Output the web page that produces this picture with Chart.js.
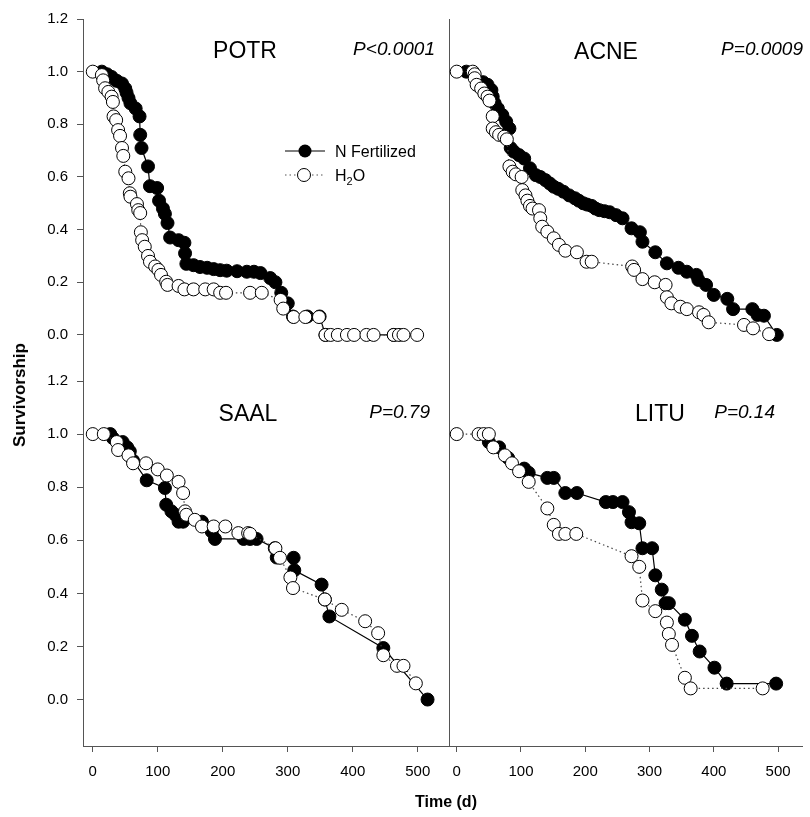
<!DOCTYPE html>
<html>
<head>
<meta charset="utf-8">
<script src="https://cdn.jsdelivr.net/npm/chart.js@4.4.0/dist/chart.umd.min.js"></script>
<style>
body { margin: 0; background: #fff; }
#wrap { position: relative; width: 810px; height: 817px; overflow: hidden; }
#wrap canvas { position: absolute; left: 0; top: 0; }
.axt { position: absolute; font: bold 16px "Liberation Sans", Arial, sans-serif; color: #000; white-space: nowrap; }
#ylab { left: 20px; top: 395px; font-size: 17px; transform: translate(-50%, -50%) rotate(-90deg); }
#xlab { left: 446px; top: 802px; transform: translate(-50%, -50%); }
</style>
</head>
<body>
<div id="wrap">
  <canvas id="c-potr" width="810" height="817"></canvas>
  <canvas id="c-acne" width="810" height="817"></canvas>
  <canvas id="c-saal" width="810" height="817"></canvas>
  <canvas id="c-litu" width="810" height="817"></canvas>
  <div class="axt" id="ylab">Survivorship</div>
  <div class="axt" id="xlab">Time (d)</div>
</div>
<script>
// tick labels
const xTicks = [0, 100, 200, 300, 400, 500];
const yTicks = [0, 0.2, 0.4, 0.6, 0.8, 1.0, 1.2];

// POTR
const potrNDays = [14, 22, 29, 37, 45, 50, 52, 55, 58, 66, 72, 73, 75, 85, 88, 99, 102, 108, 111, 115, 119, 132, 141, 142, 144, 155, 165, 176, 186, 196, 206, 222, 237, 248, 258, 273, 281, 290, 300, 308, 330, 349, 358, 463];
const potrNSurv = [1.0, 0.99, 0.98, 0.965, 0.955, 0.936, 0.92, 0.90, 0.88, 0.86, 0.83, 0.76, 0.71, 0.64, 0.565, 0.558, 0.51, 0.48, 0.46, 0.425, 0.37, 0.36, 0.35, 0.31, 0.27, 0.265, 0.258, 0.255, 0.25, 0.246, 0.244, 0.242, 0.24, 0.24, 0.235, 0.216, 0.2, 0.16, 0.12, 0.07, 0.07, 0.07, 0.0, 0.0];
const potrWDays = [0, 14, 16, 19, 24, 29, 31, 32, 36, 39, 42, 45, 47, 50, 55, 57, 58, 68, 70, 73, 74, 76, 80, 85, 88, 96, 101, 105, 113, 115, 132, 141, 155, 173, 186, 196, 205, 242, 260, 289, 293, 309, 327, 348, 358, 366, 377, 391, 402, 421, 432, 463, 471, 478, 499];
const potrWSurv = [1.0, 0.987, 0.967, 0.937, 0.923, 0.905, 0.885, 0.83, 0.816, 0.778, 0.756, 0.71, 0.68, 0.62, 0.595, 0.538, 0.525, 0.497, 0.474, 0.463, 0.39, 0.36, 0.335, 0.30, 0.278, 0.26, 0.247, 0.228, 0.202, 0.19, 0.186, 0.173, 0.173, 0.173, 0.173, 0.16, 0.16, 0.16, 0.16, 0.133, 0.1, 0.068, 0.068, 0.068, 0, 0, 0, 0, 0, 0, 0, 0, 0, 0, 0];

// ACNE
const acneNDays = [15, 41, 48, 54, 56, 59, 64, 71, 77, 82, 84, 89, 97, 105, 114, 123, 130, 138, 145, 151, 158, 166, 175, 184, 190, 197, 203, 210, 216, 222, 230, 238, 248, 258, 272, 285, 289, 309, 327, 345, 358, 373, 376, 388, 400, 421, 430, 460, 468, 478, 498];
const acneNSurv = [1.0, 0.96, 0.95, 0.93, 0.905, 0.88, 0.86, 0.835, 0.81, 0.784, 0.71, 0.696, 0.683, 0.67, 0.633, 0.607, 0.60, 0.588, 0.575, 0.563, 0.555, 0.544, 0.53, 0.519, 0.51, 0.5, 0.495, 0.49, 0.48, 0.474, 0.47, 0.466, 0.455, 0.443, 0.405, 0.39, 0.354, 0.314, 0.272, 0.255, 0.24, 0.228, 0.209, 0.19, 0.152, 0.137, 0.098, 0.098, 0.076, 0.073, 0.0];
const acneWDays = [0, 25, 28, 28, 31, 38, 43, 48, 51, 56, 56, 61, 66, 74, 78, 82, 87, 92, 101, 102, 107, 110, 114, 118, 128, 130, 133, 141, 151, 159, 169, 187, 202, 210, 273, 276, 289, 308, 325, 327, 334, 348, 358, 377, 384, 392, 447, 461, 486];
const acneWSurv = [1.0, 1.0, 0.99, 0.975, 0.95, 0.936, 0.917, 0.905, 0.89, 0.83, 0.784, 0.77, 0.76, 0.753, 0.743, 0.64, 0.62, 0.61, 0.60, 0.55, 0.53, 0.51, 0.49, 0.48, 0.474, 0.443, 0.411, 0.392, 0.367, 0.342, 0.32, 0.314, 0.278, 0.278, 0.26, 0.247, 0.212, 0.2, 0.19, 0.143, 0.12, 0.107, 0.098, 0.086, 0.076, 0.048, 0.038, 0.025, 0.003];

// SAAL
const saalNDays = [27, 31, 46, 53, 57, 62, 83, 111, 113, 121, 127, 132, 139, 168, 183, 188, 232, 242, 252, 280, 283, 309, 310, 352, 357, 364, 447, 515];
const saalNSurv = [1.0, 0.985, 0.97, 0.95, 0.935, 0.90, 0.826, 0.797, 0.734, 0.709, 0.696, 0.67, 0.67, 0.67, 0.633, 0.605, 0.605, 0.605, 0.605, 0.57, 0.535, 0.534, 0.487, 0.433, 0.377, 0.313, 0.194, 0.0];
const saalWDays = [0, 17, 37, 39, 55, 62, 82, 100, 114, 132, 139, 142, 144, 157, 168, 186, 204, 224, 239, 242, 281, 288, 304, 308, 357, 383, 419, 439, 447, 468, 478, 497];
const saalWSurv = [1.0, 1.0, 0.97, 0.94, 0.92, 0.89, 0.89, 0.867, 0.844, 0.82, 0.778, 0.709, 0.696, 0.677, 0.652, 0.652, 0.652, 0.627, 0.627, 0.624, 0.57, 0.534, 0.46, 0.42, 0.377, 0.338, 0.295, 0.25, 0.167, 0.127, 0.127, 0.061];

// LITU
const lituNDays = [50, 66, 80, 105, 112, 141, 151, 169, 187, 232, 243, 258, 268, 272, 284, 289, 304, 309, 319, 325, 330, 355, 366, 378, 401, 420, 497];
const lituNSurv = [0.97, 0.95, 0.91, 0.87, 0.854, 0.835, 0.835, 0.778, 0.778, 0.744, 0.744, 0.744, 0.706, 0.668, 0.664, 0.57, 0.57, 0.468, 0.414, 0.363, 0.363, 0.301, 0.24, 0.181, 0.12, 0.06, 0.06];
const lituWDays = [0, 34, 42, 50, 57, 75, 86, 97, 112, 141, 151, 159, 169, 186, 272, 284, 289, 309, 327, 330, 335, 355, 364, 476];
const lituWSurv = [1.0, 1.0, 1.0, 1.0, 0.95, 0.92, 0.89, 0.86, 0.82, 0.72, 0.658, 0.624, 0.624, 0.624, 0.54, 0.5, 0.373, 0.333, 0.29, 0.247, 0.206, 0.082, 0.042, 0.042];

const FONT = '"Liberation Sans", Arial, sans-serif';
const W = 810, H = 817;

function pts(days, surv) {
    return days.map((d, i) => ({x: d, y: surv[i]}));
}

// titles, p-values and the legend, drawn on top of each panel
const panelText = {
    id: 'panelText',
    afterDraw(chart, args, o) {
        const ctx = chart.ctx;
        ctx.save();
        ctx.fillStyle = '#000';
        ctx.textBaseline = 'alphabetic';
        ctx.font = '23px ' + FONT;
        ctx.textAlign = 'center';
        ctx.fillText(o.title, o.titleX, o.titleY);
        ctx.font = 'italic 19px ' + FONT;
        ctx.textAlign = 'right';
        ctx.fillText(o.p, o.pX, o.pY);
        if (o.legend) {
            let lx = o.legend.x, ly = o.legend.y;
            ctx.lineWidth = 1.2;
            ctx.strokeStyle = '#000';
            ctx.beginPath(); ctx.moveTo(lx, ly); ctx.lineTo(lx + 40, ly); ctx.stroke();
            ctx.beginPath(); ctx.arc(lx + 20, ly, 6.5, 0, Math.PI * 2); ctx.fillStyle = '#000'; ctx.fill();
            ctx.strokeStyle = '#555';
            ctx.setLineDash([1.5, 3]);
            ctx.beginPath(); ctx.moveTo(lx, ly + 24); ctx.lineTo(lx + 40, ly + 24); ctx.stroke();
            ctx.setLineDash([]);
            ctx.beginPath(); ctx.arc(lx + 19, ly + 24, 6.5, 0, Math.PI * 2);
            ctx.fillStyle = '#fff'; ctx.fill();
            ctx.strokeStyle = '#000'; ctx.lineWidth = 1; ctx.stroke();
            ctx.fillStyle = '#000';
            ctx.textAlign = 'left';
            ctx.font = '16px ' + FONT;
            ctx.fillText('N Fertilized', lx + 50, ly + 6);
            ctx.fillText('H', lx + 50, ly + 30);
            let hw = ctx.measureText('H').width;
            ctx.font = '11px ' + FONT;
            ctx.fillText('2', lx + 50 + hw, ly + 34);
            let tw = ctx.measureText('2').width;
            ctx.font = '16px ' + FONT;
            ctx.fillText('O', lx + 50 + hw + tw, ly + 30);
        }
        ctx.restore();
    }
};

function makePanel(id, cfg) {
    const a = cfg.area;
    const yW = cfg.yLabels ? 50 : 0;
    const xH = cfg.xLabels ? 40 : 0;
    return new Chart(document.getElementById(id), {
        type: 'line',
        data: {
            datasets: [{
                label: 'H2O',
                data: pts(cfg.wDays, cfg.wSurv),
                borderColor: '#444',
                borderWidth: 1.2,
                borderDash: [1.5, 3],
                pointRadius: 6.5,
                pointBorderWidth: 1,
                pointBackgroundColor: '#fff',
                pointBorderColor: '#000',
                clip: false
            }, {
                label: 'N Fertilized',
                data: pts(cfg.nDays, cfg.nSurv),
                borderColor: '#000',
                borderWidth: 1.2,
                pointRadius: 6.5,
                pointBorderWidth: 1,
                pointBackgroundColor: '#000',
                pointBorderColor: '#000',
                clip: false
            }]
        },
        options: {
            responsive: false,
            animation: false,
            events: [],
            layout: {
                padding: {left: a.left - yW, top: a.top, right: W - a.right, bottom: H - a.bottom - xH}
            },
            scales: {
                x: {
                    type: 'linear',
                    min: cfg.xMin,
                    max: cfg.xMax,
                    display: cfg.xLabels,
                    afterFit: (s) => { s.height = xH; },
                    afterBuildTicks: (s) => { s.ticks = xTicks.map(v => ({value: v})); },
                    grid: {display: true, drawOnChartArea: false, tickLength: 6, color: '#555'},
                    border: {display: true, color: '#555'},
                    ticks: {color: '#000', font: {family: FONT, size: 15}, padding: 11, maxRotation: 0}
                },
                y: {
                    type: 'linear',
                    min: -0.175,
                    max: 1.2,
                    afterFit: (s) => { s.width = yW; },
                    afterBuildTicks: (s) => { s.ticks = yTicks.map(v => ({value: v})); },
                    grid: {display: cfg.yLabels, drawOnChartArea: false, tickLength: 6, color: '#555'},
                    border: {display: true, color: '#555'},
                    ticks: {display: cfg.yLabels, color: '#000', font: {family: FONT, size: 15}, padding: 9,
                        callback: (v) => v.toFixed(1)}
                }
            },
            plugins: {
                legend: {display: false},
                tooltip: {enabled: false},
                panelText: cfg.text
            }
        },
        plugins: [panelText]
    });
}

makePanel('c-potr', {
    area: {left: 83, top: 19, right: 449, bottom: 381}, xMin: -15, xMax: 548,
    yLabels: true, xLabels: false,
    nDays: potrNDays, nSurv: potrNSurv, wDays: potrWDays, wSurv: potrWSurv,
    text: {title: 'POTR', titleX: 245, titleY: 58, p: 'P<0.0001', pX: 435, pY: 55, legend: {x: 285, y: 151}}
});
makePanel('c-acne', {
    area: {left: 449, top: 19, right: 808, bottom: 381}, xMin: -12, xMax: 538,
    yLabels: false, xLabels: false,
    nDays: acneNDays, nSurv: acneNSurv, wDays: acneWDays, wSurv: acneWSurv,
    text: {title: 'ACNE', titleX: 606, titleY: 59, p: 'P=0.0009', pX: 803, pY: 55}
});
makePanel('c-saal', {
    area: {left: 83, top: 381, right: 449, bottom: 746}, xMin: -15, xMax: 548,
    yLabels: true, xLabels: true,
    nDays: saalNDays, nSurv: saalNSurv, wDays: saalWDays, wSurv: saalWSurv,
    text: {title: 'SAAL', titleX: 248, titleY: 421, p: 'P=0.79', pX: 430, pY: 418}
});
makePanel('c-litu', {
    area: {left: 449, top: 381, right: 808, bottom: 746}, xMin: -12, xMax: 538,
    yLabels: false, xLabels: true,
    nDays: lituNDays, nSurv: lituNSurv, wDays: lituWDays, wSurv: lituWSurv,
    text: {title: 'LITU', titleX: 660, titleY: 421, p: 'P=0.14', pX: 775, pY: 418}
});
</script>
</body>
</html>
